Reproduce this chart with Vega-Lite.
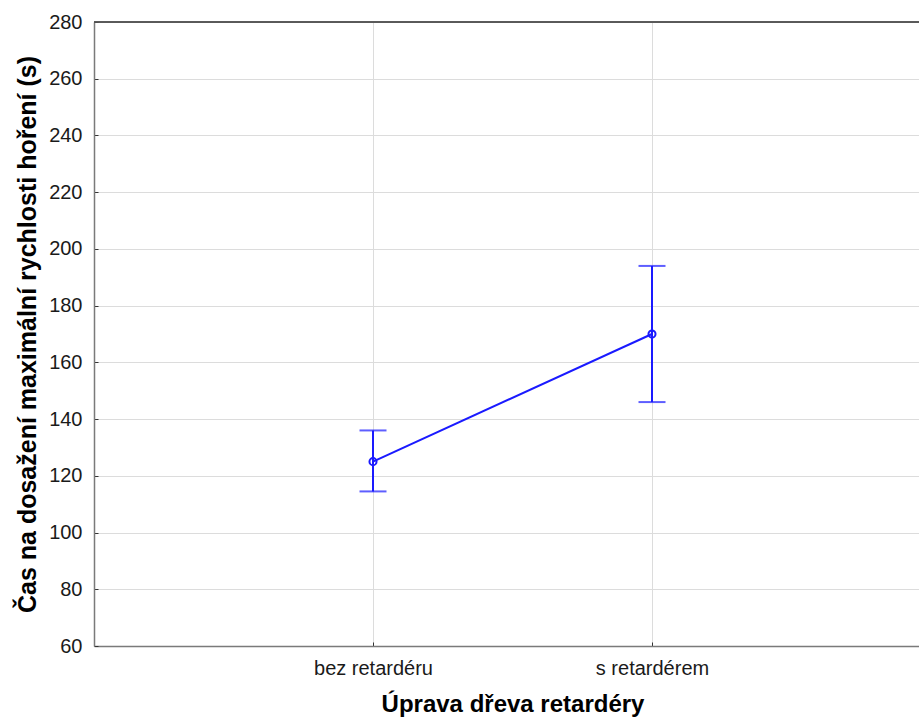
{
  "$schema": "https://vega.github.io/schema/vega-lite/v6.json",
  "width": 825,
  "height": 624,
  "autosize": "none",
  "padding": {"left": 94, "top": 22, "right": 0, "bottom": 72},
  "background": "white",
  "config": {
    "view": {"stroke": null},
    "font": "Liberation Sans",
    "axis": {
      "labelFont": "Liberation Sans",
      "titleFont": "Liberation Sans",
      "labelColor": "#1a1a1a",
      "titleColor": "#000000",
      "domainColor": "#7a7a7a",
      "domainWidth": 1.5,
      "tickColor": "#333333",
      "gridColor": "#dcdcdc",
      "gridWidth": 1
    }
  },
  "data": {
    "values": [
      {"k": "bez retardéru", "mean": 125, "lo": 114.5, "hi": 136},
      {"k": "s retardérem", "mean": 170, "lo": 146, "hi": 194}
    ]
  },
  "layer": [
    {
      "mark": {"type": "rule", "color": "#1a1aff", "strokeWidth": 2},
      "encoding": {
        "x": {
          "field": "k",
          "type": "nominal",
          "sort": null,
          "scale": {"type": "point", "padding": 1, "range": [0, 837]},
          "axis": {
            "title": "Úprava dřeva retardéry",
            "labelAngle": 0,
            "labelFontSize": 20,
            "titleFontSize": 24,
            "titleFontWeight": "bold",
            "tickSize": -4,
            "labelPadding": 16,
            "titlePadding": 14,
            "grid": true
          }
        },
        "y": {"field": "lo", "type": "quantitative"},
        "y2": {"field": "hi"}
      }
    },
    {
      "mark": {"type": "tick", "color": "#1a1aff", "thickness": 2, "size": 27, "orient": "horizontal"},
      "encoding": {
        "x": {"field": "k", "type": "nominal", "sort": null},
        "y": {"field": "lo", "type": "quantitative"}
      }
    },
    {
      "mark": {"type": "tick", "color": "#1a1aff", "thickness": 2, "size": 27, "orient": "horizontal"},
      "encoding": {
        "x": {"field": "k", "type": "nominal", "sort": null},
        "y": {"field": "hi", "type": "quantitative"}
      }
    },
    {
      "mark": {"type": "line", "color": "#1a1aff", "strokeWidth": 2},
      "encoding": {
        "x": {"field": "k", "type": "nominal", "sort": null},
        "y": {"field": "mean", "type": "quantitative"}
      }
    },
    {
      "mark": {"type": "point", "color": "#1a1aff", "filled": false, "size": 50, "strokeWidth": 2, "opacity": 1},
      "encoding": {
        "x": {"field": "k", "type": "nominal", "sort": null},
        "y": {
          "field": "mean",
          "type": "quantitative",
          "scale": {"domain": [60, 280], "nice": false, "zero": false},
          "axis": {
            "title": "Čas na dosažení maximální rychlosti hoření (s)",
            "values": [60, 80, 100, 120, 140, 160, 180, 200, 220, 240, 260, 280],
            "labelFontSize": 20,
            "titleFontSize": 25,
            "titleFontWeight": "bold",
            "tickSize": -4,
            "labelPadding": 16,
            "titlePadding": 8,
            "grid": true
          }
        }
      }
    },
    {
      "mark": {"type": "rule", "color": "#505050", "strokeWidth": 1.5},
      "encoding": {"y": {"datum": 280, "type": "quantitative"}}
    }
  ]
}
